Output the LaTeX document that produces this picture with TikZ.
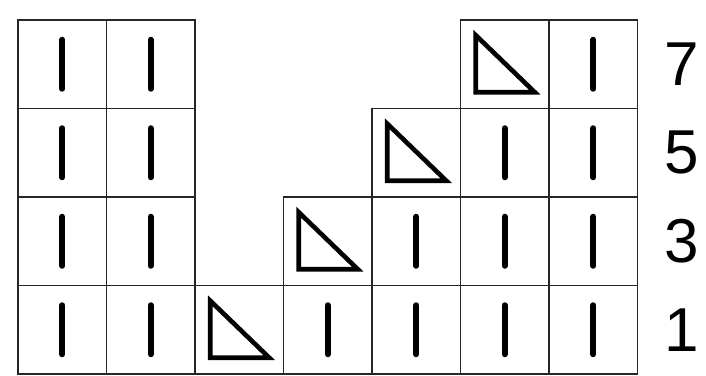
\documentclass[tikz,border=0pt]{standalone}
\usepackage{fontspec}
\setmainfont{Liberation Sans}
\begin{document}
\begin{tikzpicture}[x=1pt,y=1pt,
  cellbox/.style={draw=black!85, line width=1.3pt, minimum width=88.5pt, minimum height=88.5pt, inner sep=0pt, outer sep=0pt},
  barline/.style={line width=6pt, line cap=round},
  trishape/.style={line width=4.6pt, line join=miter},
  rowlabel/.style={font=\fontsize{62}{62}\selectfont, inner sep=0pt, anchor=center}]
\useasboundingbox (0,0) rectangle (706,375);
% cells with bars
\foreach \c/\r in {1/1,2/1,4/1,5/1,6/1,7/1,
                   1/2,2/2,5/2,6/2,7/2,
                   1/3,2/3,6/3,7/3,
                   1/4,2/4,7/4}{
  \node[cellbox] (c\c\r) at ({18+88.5*(\c-0.5)},{1+88.5*(\r-0.5)}) {};
  \draw[barline] ([yshift=24.5pt]c\c\r.center) -- ([yshift=-24.5pt]c\c\r.center);
}
% cells with triangles
\foreach \c/\r in {3/1,4/2,5/3,6/4}{
  \node[cellbox] (c\c\r) at ({18+88.5*(\c-0.5)},{1+88.5*(\r-0.5)}) {};
  \draw[trishape] ([shift={(-29pt,29pt)}]c\c\r.center) -- ([shift={(-29pt,-28pt)}]c\c\r.center)
     -- ([shift={(30pt,-28pt)}]c\c\r.center) -- cycle;
}
% row labels
\node[rowlabel] (l7) at (682,311) {7};
\node[rowlabel] (l5) at (682,223) {5};
\node[rowlabel] (l3) at (682,134) {3};
\node[rowlabel] (l1) at (682,45) {1};
\end{tikzpicture}
\end{document}
